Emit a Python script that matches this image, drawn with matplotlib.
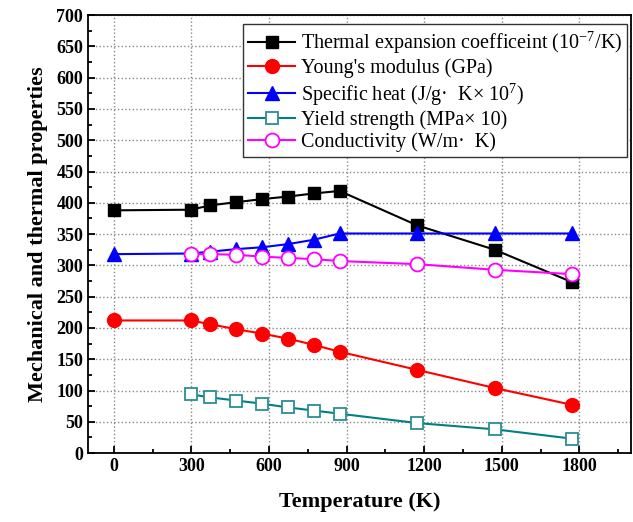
import numpy as np
import matplotlib
matplotlib.use('Agg')
import matplotlib.pyplot as plt
from matplotlib.ticker import MultipleLocator

plt.rcParams['font.family'] = ['Liberation Serif', 'DejaVu Serif']
plt.rcParams['mathtext.fontset'] = 'custom'
plt.rcParams['mathtext.rm'] = 'Liberation Serif'

# 데이터
temp_all = [0, 298, 373, 473, 573, 673, 773, 873, 1173, 1473, 1773]
temp_hi = [298, 373, 473, 573, 673, 773, 873, 1173, 1473, 1773]

thermal_exp = [388, 389, 396, 401, 406, 410, 415, 419, 364, 325, 273]
youngs = [212, 212, 206, 198, 191, 183, 173, 162, 133, 104, 77]
specific_heat = [318, 319, 322, 326, 329, 334, 341, 351, 351, 351, 351]
yield_str = [94, 89, 84, 79, 73, 68, 63, 48, 38, 23]
conductivity = [318, 318, 317, 314, 312, 310, 307, 302, 293, 286]

labels = ['Thermal expansion coefficeint (10$^{-7}$/K)',
          "Young's modulus (GPa)",
          'Specific heat (J/g·  K× 10$^{7}$)',
          'Yield strength (MPa× 10)',
          'Conductivity (W/m·  K)']

fig = plt.figure(figsize=(6.33, 5.22), dpi=100)
ax = fig.add_axes([0.139, 0.132, 0.858, 0.839])

ms = 9
ax.plot(temp_all, thermal_exp, '-s', color='black', lw=1.5, ms=ms, label=labels[0])
ax.plot(temp_all, youngs, '-o', color='red', lw=1.5, ms=ms + 1, label=labels[1])
ax.plot(temp_all, specific_heat, '-^', color='blue', lw=1.5, ms=ms + 1, label=labels[2])
ax.plot(temp_hi, yield_str, '-s', color='#008080', mfc='white', mec='#2a9090',
        mew=1.3, lw=1.5, ms=ms, label=labels[3])
ax.plot(temp_hi, conductivity, '-o', color='#ff00ff', mfc='white', mec='#ff00ff',
        mew=1.3, lw=1.5, ms=ms + 1, label=labels[4])

ax.set_xlim(-100, 2000)
ax.set_ylim(0, 700)
ax.xaxis.set_minor_locator(MultipleLocator(150))
ax.yaxis.set_major_locator(MultipleLocator(50))
ax.yaxis.set_minor_locator(MultipleLocator(25))
ax.set_xticks([0, 300, 600, 900, 1200, 1500, 1800])
ax.tick_params(which='both', direction='in', top=False, right=False, width=1.3)
ax.tick_params(which='major', length=5, labelsize=13)
ax.tick_params(which='minor', length=3)
for lab in ax.get_xticklabels() + ax.get_yticklabels():
    lab.set_fontweight('bold')
for sp in ax.spines.values():
    sp.set_linewidth(1.3)

ax.grid(True, which='major', linestyle=':', color='#888888', linewidth=1)
ax.set_axisbelow(True)

ax.set_xlabel('Temperature (K)', fontsize=16, fontweight='bold', labelpad=12)
ax.set_ylabel('Mechanical and thermal properties', fontsize=16, fontweight='bold', labelpad=6)

leg = ax.legend(loc='upper right', bbox_to_anchor=(0.9926, 0.979), borderaxespad=0,
                fontsize=14.5, handlelength=2.3, labelspacing=0.12,
                borderpad=0.25, handletextpad=0.3, fancybox=False, framealpha=1)
leg.get_frame().set_edgecolor('#333333')
leg.get_frame().set_linewidth(1)

fig.savefig('out.png', dpi=100)
